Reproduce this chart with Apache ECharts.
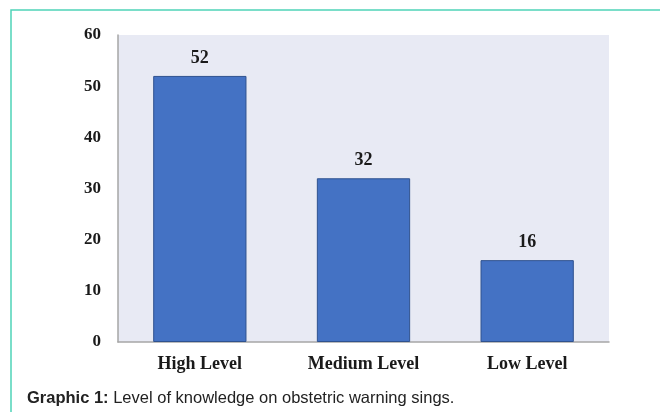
<!DOCTYPE html>
<html><head><meta charset="utf-8">
<script src="https://cdn.jsdelivr.net/npm/echarts@6/dist/echarts.min.js"></script>
<style>html,body{margin:0;padding:0;background:#fff}#c{width:660px;height:412px}</style>
</head><body><div id="c"></div>
<script>
const categories = ['High Level', 'Medium Level', 'Low Level'];
const values = [52, 32, 16];
const yTicks = [0, 10, 20, 30, 40, 50, 60];
const captionBold = 'Graphic 1:';
const captionText = ' Level of knowledge on obstetric warning sings.';

const chart = echarts.init(document.getElementById('c'));
chart.setOption({
  animation: false,
  backgroundColor: '#fff',
  grid: { left: 118, right: 51, top: 35, bottom: 70, show: true, backgroundColor: '#e8eaf4', borderWidth: 0 },
  xAxis: {
    type: 'category', data: categories,
    axisLine: { lineStyle: { color: '#a6a6a6', width: 1.5 } },
    axisTick: { show: false },
    axisLabel: { fontFamily: 'Liberation Serif', fontWeight: 'bold', fontSize: 18, color: '#1a1a1a', margin: 13 }
  },
  yAxis: {
    type: 'value', min: yTicks[0], max: yTicks[yTicks.length - 1], interval: 10,
    axisLine: { show: true, lineStyle: { color: '#a6a6a6', width: 1.5 } },
    axisTick: { show: false },
    splitLine: { show: false },
    axisLabel: { fontFamily: 'Liberation Serif', fontWeight: 'bold', fontSize: 17, color: '#1a1a1a', margin: 17 }
  },
  series: [{
    type: 'bar', data: values, barWidth: '57%',
    itemStyle: { color: '#4472c4', borderColor: '#2f528f', borderWidth: 1 },
    label: { show: true, position: 'top', distance: 9, fontFamily: 'Liberation Serif', fontWeight: 'bold', fontSize: 18, color: '#1a1a1a' }
  }],
  graphic: [
    { type: 'rect', shape: { x: 11, y: 10, width: 700, height: 460 }, style: { fill: 'none', stroke: '#4fd3b8', lineWidth: 1.5 }, silent: true },
    { type: 'text', left: 27, top: 390, style: {
        text: '{b|' + captionBold + '}{n|' + captionText + '}',
        rich: {
          b: { fontFamily: 'Liberation Sans', fontWeight: 'bold', fontSize: 16.5, fill: '#222' },
          n: { fontFamily: 'Liberation Sans', fontSize: 16.5, fill: '#222' }
        }
    } }
  ]
});
</script></body></html>
